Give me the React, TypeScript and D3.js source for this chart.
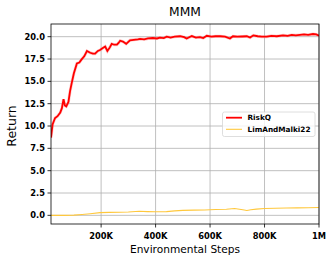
import React, { useEffect } from 'react';
import * as d3 from 'd3';

const riskSteps = [16000, 22000, 31000, 40000, 50000, 56000, 62000, 67000, 72000, 80000, 86000, 92000, 100000, 111000, 120000, 127000, 138000, 148000, 160000, 170000, 178000, 188000, 196000, 205000, 215000, 223000, 232000, 239000, 248000, 258000, 264000, 270000, 280000, 292000, 306000, 320000, 335000, 343000, 358000, 372000, 390000, 405000, 416000, 430000, 441000, 455000, 470000, 490000, 505000, 514000, 533000, 548000, 563000, 575000, 588000, 605000, 620000, 637000, 655000, 673000, 684000, 700000, 718000, 735000, 747000, 759000, 775000, 790000, 808000, 825000, 845000, 868000, 885000, 900000, 915000, 930000, 945000, 960000, 978000, 990000, 1000000];
const riskValues = [8.7, 10.2, 10.9, 11.1, 11.5, 12.0, 13.0, 12.3, 12.2, 12.7, 13.9, 14.8, 15.9, 17.0, 17.1, 17.4, 17.8, 18.4, 18.2, 18.1, 18.1, 18.4, 18.5, 18.7, 18.9, 18.4, 18.8, 19.2, 19.1, 19.1, 19.3, 19.55, 19.45, 19.2, 19.6, 19.65, 19.7, 19.75, 19.7, 19.8, 19.85, 19.8, 19.9, 19.85, 20.0, 19.9, 20.0, 20.05, 19.95, 19.8, 20.07, 19.9, 19.95, 19.85, 20.1, 20.0, 20.05, 20.05, 20.0, 19.8, 20.05, 20.0, 20.02, 20.05, 19.9, 20.15, 20.05, 20.0, 20.0, 20.1, 20.05, 20.15, 20.1, 20.2, 20.15, 20.2, 20.25, 20.2, 20.3, 20.25, 20.1];

const limSteps = [16000, 60000, 100000, 130000, 160000, 196000, 230000, 270000, 300000, 340000, 370000, 400000, 440000, 470000, 500000, 540000, 580000, 620000, 660000, 690000, 720000, 735000, 750000, 770000, 800000, 840000, 880000, 920000, 960000, 1000000];
const limValues = [0.0, 0.0, 0.02, 0.1, 0.18, 0.3, 0.33, 0.35, 0.38, 0.45, 0.42, 0.4, 0.42, 0.5, 0.55, 0.58, 0.6, 0.65, 0.68, 0.76, 0.62, 0.55, 0.62, 0.7, 0.76, 0.8, 0.82, 0.84, 0.85, 0.88];

const xTicks = [200000, 400000, 600000, 800000, 1000000];
const xTickLabels = ['200K', '400K', '600K', '800K', '1M'];
const yTicks = [0, 2.5, 5, 7.5, 10, 12.5, 15, 17.5, 20];

const seriesNames = ['RiskQ', 'LimAndMalki22'];
const seriesColors = ['#ff0000', '#ffc83c'];

const W = 332;
const H = 260;
const margin = { top: 24, right: 13, bottom: 36, left: 51 };
const font = 'DejaVu Sans, sans-serif';

export default function App() {
  useEffect(() => {
    document.body.style.margin = '0';
  }, []);

  const x = d3.scaleLinear().domain([16000, 1000000]).range([margin.left, W - margin.right]);
  const y = d3.scaleLinear().domain([-0.97, 21.42]).range([H - margin.bottom, margin.top]);

  const line = d3.line<[number, number]>()
    .x(d => x(d[0]))
    .y(d => y(d[1]));

  const riskData = riskSteps.map((s, i) => [s, riskValues[i]] as [number, number]);
  const limData = limSteps.map((s, i) => [s, limValues[i]] as [number, number]);

  const [x0, x1] = x.range();
  const [y0, y1] = y.range();

  return (
    <svg width={W} height={H} style={{ display: 'block', fontFamily: font }}>
      <rect width={W} height={H} fill="#fff" />
      {/* grid */}
      {xTicks.map(t => (
        <line key={'gx' + t} x1={x(t)} x2={x(t)} y1={y1} y2={y0} stroke="#b0b0b0" strokeWidth={0.8} />
      ))}
      {yTicks.map(t => (
        <line key={'gy' + t} x1={x0} x2={x1} y1={y(t)} y2={y(t)} stroke="#b0b0b0" strokeWidth={0.8} />
      ))}

      <defs>
        <clipPath id="plot">
          <rect x={x0} y={y1} width={x1 - x0} height={y0 - y1} />
        </clipPath>
      </defs>
      <g clipPath="url(#plot)">
        <path d={line(limData) ?? ''} fill="none" stroke={seriesColors[1]} strokeWidth={1.1} />
        <path d={line(riskData) ?? ''} fill="none" stroke="#ff9a9a" strokeWidth={3} opacity={0.5} />
        <path d={line(riskData) ?? ''} fill="none" stroke={seriesColors[0]} strokeWidth={1.8} />
      </g>

      {/* spines */}
      <rect x={x0} y={y1} width={x1 - x0} height={y0 - y1} fill="none" stroke="#000" strokeWidth={0.8} />

      {/* x ticks */}
      {xTicks.map((t, i) => (
        <g key={'xt' + t}>
          <line x1={x(t)} x2={x(t)} y1={y0} y2={y0 + 3.5} stroke="#000" strokeWidth={0.8} />
          <text x={x(t)} y={y0 + 14.5} textAnchor="middle" fontSize={8.3} fontWeight="bold" fill="#000">
            {xTickLabels[i]}
          </text>
        </g>
      ))}
      {/* y ticks */}
      {yTicks.map(t => (
        <g key={'yt' + t}>
          <line x1={x0 - 3.5} x2={x0} y1={y(t)} y2={y(t)} stroke="#000" strokeWidth={0.8} />
          <text x={x0 - 6} y={y(t) + 3} textAnchor="end" fontSize={8.3} fontWeight="bold" fill="#000">
            {d3.format('.1f')(t)}
          </text>
        </g>
      ))}

      <text x={(x0 + x1) / 2} y={16} textAnchor="middle" fontSize={12.3} fill="#000">MMM</text>
      <text x={(x0 + x1) / 2} y={253} textAnchor="middle" fontSize={10.6} fill="#000">Environmental Steps</text>
      <text transform={`translate(15.5,${(y0 + y1) / 2 + 2}) rotate(-90)`} textAnchor="middle" fontSize={12.5} fill="#000">Return</text>

      {/* legend */}
      <g transform="translate(222.5,112)">
        <rect width={92.5} height={24.5} rx={2} fill="#fff" fillOpacity={0.8} stroke="#d6d6d6" strokeWidth={0.8} />
        {seriesNames.map((n, i) => (
          <g key={n} transform={`translate(0,${5.7 + i * 11.6})`}>
            <line x1={3.5} x2={19.5} y1={0} y2={0} stroke={seriesColors[i]} strokeWidth={i === 0 ? 1.8 : 1.1} />
            <text x={25} y={2.6} fontSize={7.3} fontWeight="bold" fill="#000">{n}</text>
          </g>
        ))}
      </g>
    </svg>
  );
}
